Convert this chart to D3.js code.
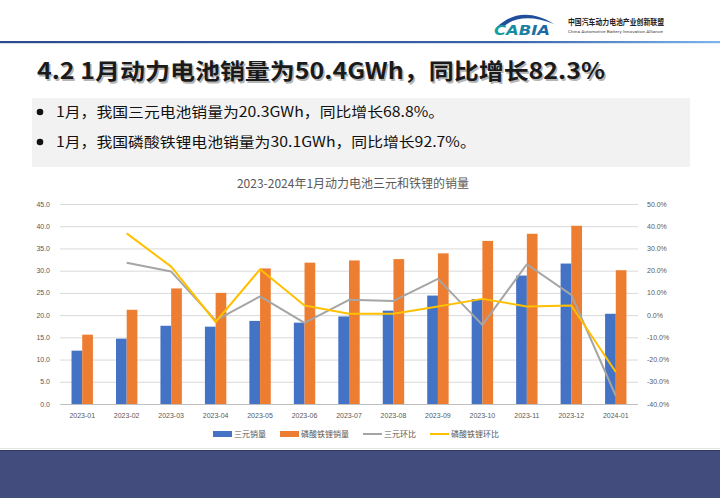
<!DOCTYPE html>
<html>
<head>
<meta charset="utf-8">
<script src="https://cdn.jsdelivr.net/npm/d3@7"></script>
<style>
  body { margin: 0; background: #fff; }
  svg { display: block; }
</style>
</head>
<body>
<script>
// chart data (GWh, month-on-month %)
var months = ["2023-01","2023-02","2023-03","2023-04","2023-05","2023-06","2023-07",
              "2023-08","2023-09","2023-10","2023-11","2023-12","2024-01"];
var ternary = [12.0, 14.7, 17.6, 17.4, 18.7, 18.3, 19.7, 21.0, 24.4, 23.6, 28.9, 31.6, 20.3];
var lfp     = [15.6, 21.2, 26.0, 25.0, 30.5, 31.8, 32.3, 32.6, 33.9, 36.7, 38.3, 40.1, 30.1];
var ternaryMoM = [null, 23.6, 19.6, -2.4, 8.4, -3.5, 6.9, 6.4, 16.3, -4.4, 22.9, 9.1, -36.3];
var lfpMoM     = [null, 36.8, 21.8, -3.1, 20.6, 4.3, 0.6, 0.6, 3.9, 7.3, 3.9, 4.3, -25.6];
var leftTicks  = [0, 5, 10, 15, 20, 25, 30, 35, 40, 45];
var rightTicks = [-40, -30, -20, -10, 0, 10, 20, 30, 40, 50];
var seriesNames = ["三元销量", "磷酸铁锂销量", "三元环比", "磷酸铁锂环比"];
var colors = ["#4472c4", "#ed7d31", "#a5a5a5", "#ffc000"];

var W = 720, H = 498;
var svg = d3.select("body").append("svg")
    .attr("width", W).attr("height", H);

var cjk = "'Noto Sans CJK SC', 'Noto Sans', sans-serif";

// ---- header ----
var defs = svg.append("defs");
var grad = defs.append("linearGradient").attr("id", "hline");
grad.append("stop").attr("offset", "0%").attr("stop-color", "#2c4a8e");
grad.append("stop").attr("offset", "70%").attr("stop-color", "#3a63a8");
grad.append("stop").attr("offset", "100%").attr("stop-color", "#7db4ec");
svg.append("rect").attr("x", 0).attr("y", 41).attr("width", W).attr("height", 2.2)
    .attr("fill", "url(#hline)");

var lgrad = defs.append("linearGradient").attr("id", "logo");
lgrad.append("stop").attr("offset", "0%").attr("stop-color", "#17a3a0");
lgrad.append("stop").attr("offset", "100%").attr("stop-color", "#1d5fa8");

// logo swoosh + letters
svg.append("path")
    .attr("d", "M497,27 C510,14 530,9 554,24 C532,15 514,17 503,27 Z")
    .attr("fill", "#1f4f9c");
svg.append("text").attr("x", 494).attr("y", 35)
    .attr("font-family", "'DejaVu Sans', sans-serif").attr("font-style", "italic")
    .attr("font-weight", "bold").attr("font-size", 14).attr("fill", "url(#logo)")
    .attr("textLength", 56).attr("lengthAdjust", "spacingAndGlyphs")
    .text("CABIA");
svg.append("text").attr("x", 568).attr("y", 25)
    .attr("font-family", cjk).attr("font-weight", "bold").attr("font-size", 8.5)
    .attr("fill", "#222").attr("textLength", 96).attr("lengthAdjust", "spacingAndGlyphs")
    .text("中国汽车动力电池产业创新联盟");
svg.append("text").attr("x", 568).attr("y", 33)
    .attr("font-family", "Roboto, sans-serif").attr("font-size", 4)
    .attr("fill", "#444").attr("textLength", 95).attr("lengthAdjust", "spacingAndGlyphs")
    .text("China Automotive Battery Innovation Alliance");

// ---- headline ----
var headline = "4.2 1月动力电池销量为50.4GWh，同比增长82.3%";
svg.append("text").attr("x", 38.5).attr("y", 80.5)
    .attr("font-family", cjk).attr("font-weight", "bold").attr("font-size", 22)
    .attr("fill", "#b5b5b5").attr("textLength", 568).attr("lengthAdjust", "spacingAndGlyphs")
    .text(headline);
svg.append("text").attr("x", 37).attr("y", 79)
    .attr("font-family", cjk).attr("font-weight", "bold").attr("font-size", 22)
    .attr("fill", "#1a1a1a").attr("textLength", 568).attr("lengthAdjust", "spacingAndGlyphs")
    .text(headline);

// bullet box
svg.append("rect").attr("x", 32).attr("y", 98).attr("width", 658).attr("height", 69)
    .attr("fill", "#f2f2f2");
var bullets = ["1月，我国三元电池销量为20.3GWh，同比增长68.8%。",
               "1月，我国磷酸铁锂电池销量为30.1GWh，同比增长92.7%。"];
bullets.forEach(function(t, i) {
    var cy = 112 + i * 30;
    svg.append("circle").attr("cx", 40).attr("cy", cy).attr("r", 3.3).attr("fill", "#111");
    var tx = svg.append("text").attr("x", 56).attr("y", cy + 5)
        .attr("font-family", cjk).attr("font-size", 14).attr("fill", "#111")
        .text(t);
    var len = tx.node().getComputedTextLength();
    tx.attr("textLength", len * 1.13).attr("lengthAdjust", "spacingAndGlyphs");
});

// ---- chart ----
var plot = {left: 60, right: 638, top: 204, bottom: 404};

var x = d3.scaleBand().domain(months).range([plot.left, plot.right]);
var yL = d3.scaleLinear().domain([0, 45]).range([plot.bottom, plot.top]);
var yR = d3.scaleLinear().domain([-40, 50]).range([plot.bottom, plot.top]);
var barW = 10.7;
var xs = d3.scaleBand().domain([0, 1])
    .range([x.bandwidth() / 2 - barW, x.bandwidth() / 2 + barW]);

svg.append("text").attr("x", 353).attr("y", 188).attr("text-anchor", "middle")
    .attr("font-family", cjk).attr("font-size", 12).attr("fill", "#595959")
    .text("2023-2024年1月动力电池三元和铁锂的销量");

// gridlines
svg.append("g").selectAll("line").data(leftTicks).enter().append("line")
    .attr("x1", plot.left).attr("x2", plot.right)
    .attr("y1", function(d) { return yL(d) + 0.5; })
    .attr("y2", function(d) { return yL(d) + 0.5; })
    .attr("stroke", function(d) { return d === 0 ? "#bfbfbf" : "#d9d9d9"; })
    .attr("stroke-width", 1);

// left axis labels
var tickFont = "'Liberation Sans', Arial, sans-serif";
svg.append("g").selectAll("text").data(leftTicks).enter().append("text")
    .attr("x", 50).attr("y", function(d) { return yL(d) + 2.5; })
    .attr("text-anchor", "end").attr("font-family", tickFont).attr("font-size", 7)
    .attr("fill", "#595959")
    .text(function(d) { return d.toFixed(1); });

// right axis labels
svg.append("g").selectAll("text").data(rightTicks).enter().append("text")
    .attr("x", 647).attr("y", function(d) { return yR(d) + 2.5; })
    .attr("font-family", tickFont).attr("font-size", 7).attr("fill", "#595959")
    .text(function(d) { return d.toFixed(1) + "%"; });

// month labels
svg.append("g").selectAll("text").data(months).enter().append("text")
    .attr("x", function(d) { return x(d) + x.bandwidth() / 2; }).attr("y", 418)
    .attr("text-anchor", "middle").attr("font-family", tickFont).attr("font-size", 7)
    .attr("fill", "#595959")
    .text(function(d) { return d; });

// bars
[ternary, lfp].forEach(function(vals, s) {
    svg.append("g").selectAll("rect").data(vals).enter().append("rect")
        .attr("x", function(d, i) { return x(months[i]) + xs(s); })
        .attr("width", xs.bandwidth())
        .attr("y", function(d) { return yL(d); })
        .attr("height", function(d) { return yL(0) - yL(d); })
        .attr("fill", colors[s]);
});

// lines
var line = d3.line()
    .defined(function(d) { return d != null; })
    .x(function(d, i) { return x(months[i]) + x.bandwidth() / 2; })
    .y(function(d) { return yR(d); });
[ternaryMoM, lfpMoM].forEach(function(vals, s) {
    svg.append("path").datum(vals)
        .attr("d", line)
        .attr("fill", "none")
        .attr("stroke", colors[s + 2])
        .attr("stroke-width", 2)
        .attr("stroke-linejoin", "round");
});

// legend
var lg = svg.append("g");
var lx = 213;
seriesNames.forEach(function(name, i) {
    if (i < 2) {
        lg.append("rect").attr("x", lx).attr("y", 431).attr("width", 19).attr("height", 6)
            .attr("fill", colors[i]);
    } else {
        lg.append("line").attr("x1", lx).attr("x2", lx + 19).attr("y1", 434).attr("y2", 434)
            .attr("stroke", colors[i]).attr("stroke-width", 2);
    }
    var t = lg.append("text").attr("x", lx + 21).attr("y", 437)
        .attr("font-family", cjk).attr("font-size", 8).attr("fill", "#595959")
        .text(name);
    lx += 21 + t.node().getComputedTextLength() + 14;
});

// bottom band
svg.append("rect").attr("x", 0).attr("y", 448).attr("width", W).attr("height", 1)
    .attr("fill", "#e3e3e3");
svg.append("rect").attr("x", 0).attr("y", 450).attr("width", W).attr("height", H - 450)
    .attr("fill", "#424d7d");
svg.append("rect").attr("x", 0).attr("y", 450).attr("width", W).attr("height", 1)
    .attr("fill", "#2f385e");
</script>
</body>
</html>
